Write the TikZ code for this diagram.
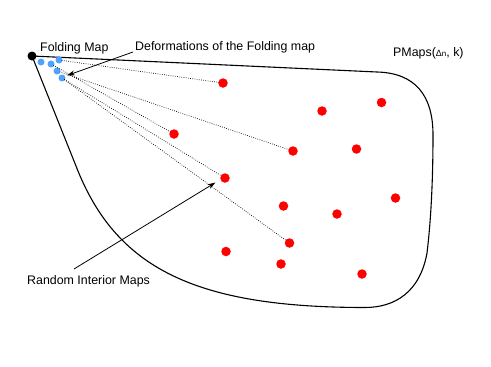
\documentclass[tikz,border=0pt]{standalone}
\usepackage{fontspec}
\setmainfont{Liberation Sans}
\usetikzlibrary{arrows.meta}
\definecolor{dotred}{RGB}{255,0,0}
\definecolor{dotblue}{RGB}{77,163,255}
\begin{document}
\begin{tikzpicture}[x=1pt,y=-1pt,
  reddot/.style={circle,fill=dotred,inner sep=0pt,minimum size=9.5pt},
  bluedot/.style={circle,fill=dotblue,inner sep=0pt,minimum size=7pt},
  blackdot/.style={circle,fill=black,inner sep=0pt,minimum size=9pt},
  dotline/.style={dash pattern=on 0.7pt off 1.5pt,line width=0.7pt,shorten <=-1pt,shorten >=-1pt},
  lbl/.style={anchor=base west,inner sep=0pt,font=\fontsize{12.4}{14}\selectfont},
  callout/.style={line width=0.8pt,-{Stealth[length=8pt,width=5pt]}},
  outline/.style={line width=1.1pt,line join=round}]
\useasboundingbox (0,0) rectangle (491,367);
% region outline
\draw[outline] (32,56) -- (377,72)
  .. controls (415,73) and (433,95) .. (433,135)
  .. controls (433,180) and (431,220) .. (427,253)
  .. controls (420,292) and (395,307.5) .. (365,307.5)
  .. controls (195,307.5) and (115.6,268.3) .. (76,166)
  -- cycle;
% folding map
\node[blackdot] (fold) at (32,56) {};
% deformations
\node[bluedot] (b1) at (41,62) {};
\node[bluedot] (b2) at (51,64) {};
\node[bluedot] (b3) at (59,60) {};
\node[bluedot] (b4) at (57,71) {};
\node[bluedot] (b5) at (62,78) {};
% random interior maps
\node[reddot] (r1) at (223,83) {};
\node[reddot] (r2) at (322,111) {};
\node[reddot] (r3) at (381.5,102.5) {};
\node[reddot] (r4) at (174,134) {};
\node[reddot] (r5) at (293,151) {};
\node[reddot] (r6) at (356.5,149) {};
\node[reddot] (r7) at (225,178) {};
\node[reddot] (r8) at (283.5,206) {};
\node[reddot] (r9) at (337,214) {};
\node[reddot] (r10) at (395.5,198) {};
\node[reddot] (r11) at (289.5,243) {};
\node[reddot] (r12) at (226,251.5) {};
\node[reddot] (r13) at (281,264) {};
\node[reddot] (r14) at (362,274) {};
% dotted connections
\draw[dotline] (b3) -- (r1);
\draw[dotline] (b4) -- (r5);
\draw[dotline] (b2) -- (r4);
\draw[dotline] (b5) -- (r7);
\draw[dotline] (b5) -- (r11);
% labels
\node[lbl] (lfold) at (40,51.5) {Folding Map};
\node[lbl] (ldef) at (135,50) {Deformations of the Folding map};
\node[lbl] (lpm) at (393,56) {PMaps({\fontsize{9}{10}\selectfont Δ}\raisebox{-0.8pt}{\fontsize{8}{9}\selectfont n}, k)};
\node[lbl] (lrand) at (27,284) {Random Interior Maps};
% callout arrows
\coordinate (defstart) at (133,52);
\coordinate (defend) at (67,75.5);
\coordinate (randstart) at (74,269);
\coordinate (randend) at (215.5,182.5);
\draw[callout] (defstart) -- (defend);
\draw[callout] (randstart) -- (randend);
\end{tikzpicture}
\end{document}
